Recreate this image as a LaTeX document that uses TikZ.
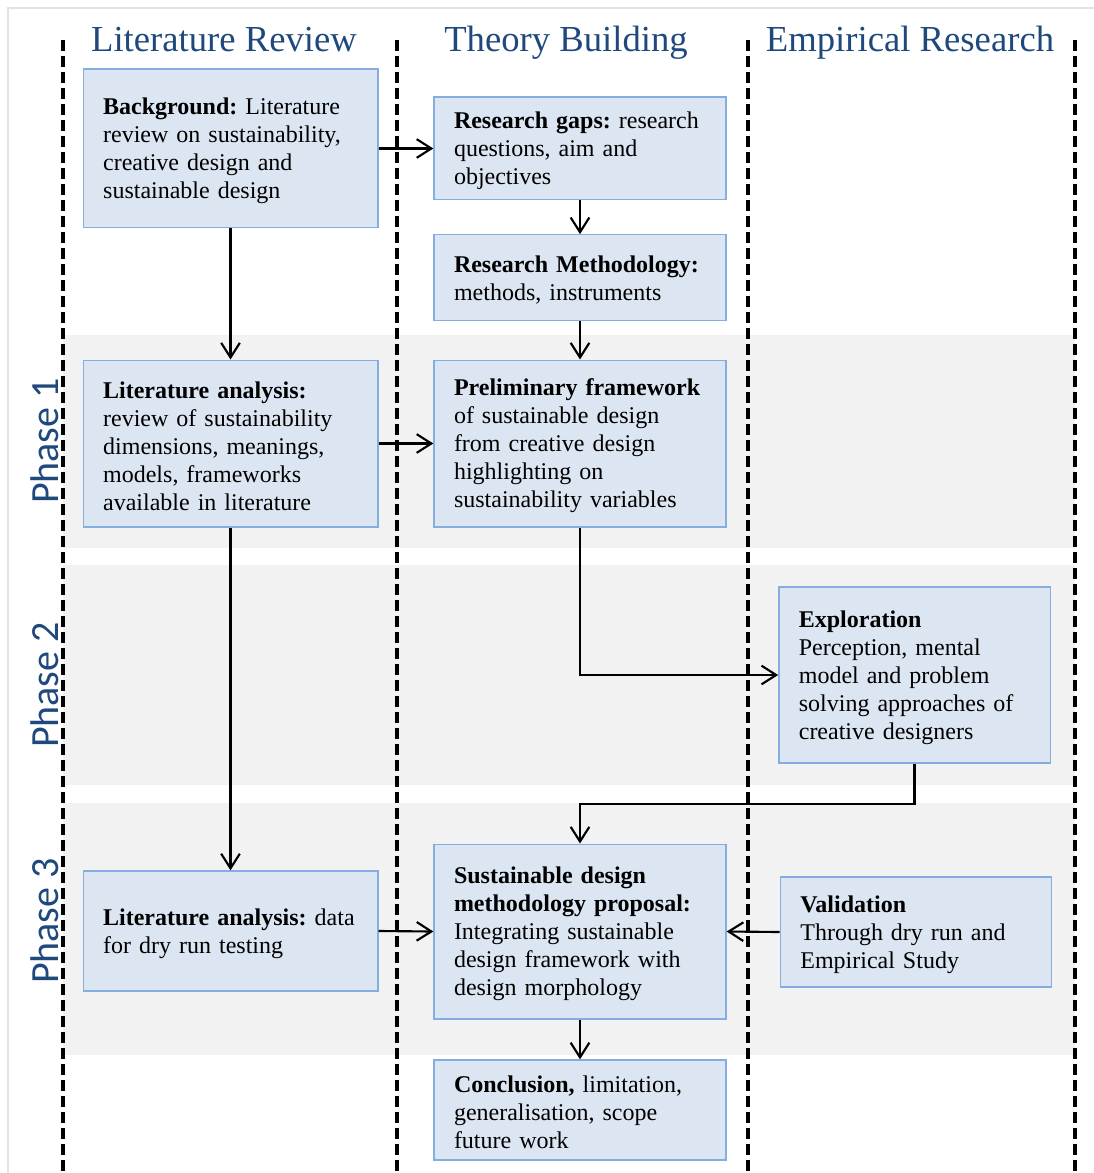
\documentclass[tikz,border=0pt]{standalone}
\usepackage{fontspec}
\setmainfont{Liberation Serif}
\newfontfamily\phasefont{Carlito}
\usetikzlibrary{arrows.meta}
\definecolor{boxfill}{HTML}{DCE6F2}
\definecolor{boxline}{HTML}{86ADE0}
\definecolor{band}{HTML}{F2F2F2}
\definecolor{headblue}{HTML}{1F497D}
\definecolor{framegray}{HTML}{E3E3E3}
\frenchspacing
\tikzset{
    stage/.style={draw=boxline, fill=boxfill, line width=1pt, align=left, inner xsep=15pt, inner ysep=0pt,
        font=\fontsize{18}{21}\selectfont, execute at begin node={\rule{0pt}{16.5pt}}},
    widebox/.style={stage, text width=191pt},
    midbox/.style={stage, text width=189pt},
    sidebox/.style={stage, text width=173.5pt},
    flow/.style={-{Straight Barb[length=11pt,width=14pt]}, line width=1.6pt},
    lane/.style={dash pattern=on 8pt off 4pt, line width=2.4pt},
    heading/.style={anchor=base, text=headblue, font=\fontsize{27.5}{30}\selectfont},
    phase/.style={rotate=90, text=headblue, font=\phasefont\fontsize{30}{32}\selectfont}
}

\begin{document}
\begin{tikzpicture}[x=0.75pt, y=-0.75pt]
\useasboundingbox (0,0) rectangle (1094,1173);
\draw[framegray, line width=1pt] (8,1173) -- (8,8) -- (1094,8);

% Phase bands
\fill[band] (63,335) rectangle (1075,548);
\fill[band] (63,565) rectangle (1075,785);
\fill[band] (63,803) rectangle (1075,1055);

% Swim lanes
\foreach \x in {63,397,748,1075}
    \draw[lane] (\x,40) -- (\x,1173);

% Headings
\node[heading] (hlit) at (224,52) {Literature Review};
\node[heading] (htheory) at (566,52) {Theory Building};
\node[heading] (hemp) at (910,52) {Empirical Research};

\node[phase] (ph1) at (45,441) {Phase 1};
\node[phase] (ph2) at (45,685) {Phase 2};
\node[phase] (ph3) at (45,921) {Phase 3};

% Literature review column
\node[widebox, minimum height=119pt] (bg) at (230.5,148.5)
    {\textbf{Background:} Literature\\review on sustainability,\\creative design and\\sustainable design};
\node[widebox, minimum height=125pt] (litA) at (230.5,443.5)
    {\textbf{Literature analysis:}\\review of sustainability\\dimensions, meanings,\\models, frameworks\\available in literature};
\node[widebox, minimum height=90pt] (litB) at (230.5,931)
    {\textbf{Literature analysis:} data\\for dry run testing};

% Theory building column
\node[midbox, minimum height=77pt] (gaps) at (580,148.5)
    {\textbf{Research gaps:} research\\questions, aim and\\objectives};
\node[midbox, minimum height=64pt] (meth) at (580,277.5)
    {\textbf{Research Methodology:}\\methods, instruments};
\node[midbox, minimum height=125pt] (prelim) at (580,443.5)
    {\textbf{Preliminary framework}\\of sustainable design\\from creative design\\highlighting on\\sustainability variables};
\node[midbox, minimum height=131pt] (prop) at (580,931.5)
    {\textbf{Sustainable design}\\\textbf{methodology proposal:}\\Integrating sustainable\\design framework with\\design morphology};
\node[midbox, minimum height=75pt] (concl) at (580,1110)
    {\textbf{Conclusion,} limitation,\\generalisation, scope\\future work};

% Empirical research column
\node[sidebox, minimum height=132pt] (explor) at (914.5,675)
    {\textbf{Exploration}\\Perception, mental\\model and problem\\solving approaches of\\creative designers};
\node[sidebox, minimum height=82.5pt] (valid) at (916,932)
    {\textbf{Validation}\\Through dry run and\\Empirical Study};

% Connectors
\draw[flow] (bg.east) -- (gaps.west);
\draw[flow] (gaps) -- (meth);
\draw[flow] (meth) -- (prelim);
\draw[flow] (bg) -- (litA);
\draw[flow] (litA.east) -- (prelim.west);
\draw[flow] (litA) -- (litB);
\draw[flow] (prelim.south) |- (explor.west);
\draw[flow] (explor.south) -- ++(0,40) -| (prop.north);
\draw[flow] (litB.east) -- (prop.west);
\draw[flow] (valid.west) -- (prop.east);
\draw[flow] (prop) -- (concl);
\end{tikzpicture}
\end{document}
